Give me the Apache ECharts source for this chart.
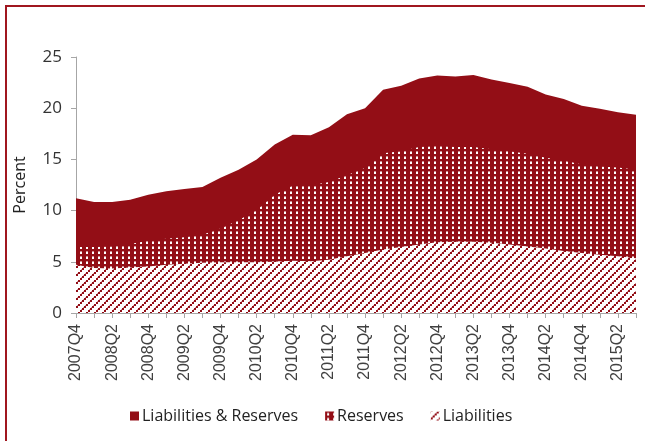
<!DOCTYPE html>
<html>
<head>
<meta charset="utf-8">
<script src="https://cdn.jsdelivr.net/npm/echarts@6/dist/echarts.min.js"></script>
<style>
html,body{margin:0;padding:0;background:#fff;}
#c{width:645px;height:441px;}
</style>
</head>
<body>
<div id="c"></div>
<script>
const categories = ['2007Q4','2008Q1','2008Q2','2008Q3','2008Q4','2009Q1','2009Q2','2009Q3','2009Q4','2010Q1','2010Q2','2010Q3','2010Q4','2011Q1','2011Q2','2011Q3','2011Q4','2012Q1','2012Q2','2012Q3','2012Q4','2013Q1','2013Q2','2013Q3','2013Q4','2014Q1','2014Q2','2014Q3','2014Q4','2015Q1','2015Q2','2015Q3'];
const liabilitiesAndReserves = [11.2,10.85,10.85,11.05,11.55,11.9,12.1,12.3,13.2,14.0,15.0,16.45,17.4,17.35,18.15,19.4,20.0,21.8,22.2,22.9,23.2,23.1,23.25,22.8,22.45,22.1,21.35,20.9,20.25,19.95,19.6,19.35];
const reserves = [6.45,6.45,6.5,6.75,7.05,7.25,7.4,7.65,8.25,9.05,10.05,11.55,12.45,12.45,12.8,13.45,14.15,15.6,15.8,16.2,16.3,16.2,16.2,16.0,15.8,15.55,15.15,14.9,14.5,14.3,14.2,14.0];
const liabilities = [4.7,4.4,4.35,4.45,4.55,4.7,4.8,4.9,4.95,4.95,4.95,5.0,5.1,5.05,5.2,5.55,5.85,6.2,6.45,6.7,6.9,6.95,6.95,6.85,6.7,6.5,6.3,6.05,5.85,5.7,5.55,5.35];
const seriesNames = ['Liabilities & Reserves','Reserves','Liabilities'];
const yTicks = {min:0, max:25, interval:5};

const RED = '#930e16';

function hatchPattern(){
  const c = document.createElement('canvas');
  c.width = 8; c.height = 8;
  const g = c.getContext('2d');
  g.fillStyle = '#ffffff'; g.fillRect(0,0,8,8);
  g.fillStyle = RED;
  for (let i = 0; i < 8; i += 2) g.fillRect(i, 6 - i, 2, 2);
  g.fillStyle = 'rgba(147,14,22,0.45)';
  for (let i = 1; i < 8; i += 2) g.fillRect(i, 6 - i, 1, 2);
  return {image: c, repeat: 'repeat'};
}
function dotPattern(){
  const c = document.createElement('canvas');
  c.width = 6; c.height = 5;
  const g = c.getContext('2d');
  g.fillStyle = RED; g.fillRect(0,0,6,5);
  g.fillStyle = '#ffffff';
  g.fillRect(2,2,2,2);
  g.fillStyle = 'rgba(255,255,255,0.55)';
  g.fillRect(2,1,2,1);
  return {image: c, repeat: 'repeat'};
}
const hatch = hatchPattern();
const dots = dotPattern();

const chart = echarts.init(document.getElementById('c'), null, {renderer:'canvas'});
const fills = [RED, dots, hatch];
const dataSets = [liabilitiesAndReserves, reserves, liabilities];

chart.setOption({
  animation: false,
  backgroundColor: '#ffffff',
  grid: {left: 76, right: 9, top: 57, bottom: 128, containLabel: false},
  graphic: [
    {type:'rect', shape:{x:6, y:5, width:645, height:2}, style:{fill:'#a0161f'}, silent:true},
    {type:'rect', shape:{x:5, y:5, width:2, height:441}, style:{fill:'#a0161f'}, silent:true}
  ],
  legend: {
    left: 125, top: 403,
    itemWidth: 9, itemHeight: 9, itemGap: 27,
    icon: 'rect',
    textStyle: {fontSize: 16, color: '#222', fontFamily: 'Open Sans', padding:[0,0,0,-2]},
    data: seriesNames.map((n,i)=>({name:n, itemStyle:{color:fills[i]}}))
  },
  xAxis: {
    type: 'category',
    data: categories,
    boundaryGap: false,
    axisLine: {lineStyle: {color: '#a6a6a6', width: 1}},
    axisTick: {show: true, interval: 0, length: 5, lineStyle: {color: '#a6a6a6'}},
    axisLabel: {interval: 1, rotate: 90, margin: 11, fontSize: 16, color: '#404040', fontFamily: 'Liberation Sans'},
    splitLine: {show: false}
  },
  yAxis: {
    type: 'value',
    min: yTicks.min, max: yTicks.max, interval: yTicks.interval,
    name: 'Percent', nameLocation: 'middle', nameRotate: 90, nameGap: 48,
    nameTextStyle: {fontSize: 16, color: '#222', fontFamily: 'Open Sans'},
    axisLine: {show: true, lineStyle: {color: '#a6a6a6'}},
    axisTick: {show: true, length: 5, lineStyle: {color: '#a6a6a6'}},
    axisLabel: {margin: 14, fontSize: 17, color: '#333', fontFamily: 'Open Sans'},
    splitLine: {show: false}
  },
  series: seriesNames.map((n,i)=>({
    name: n,
    type: 'line',
    data: dataSets[i],
    symbol: 'none',
    lineStyle: {width: 0},
    itemStyle: {color: fills[i]},
    areaStyle: {color: fills[i], opacity: 1},
    z: 2 + i
  }))
});
</script>
</body>
</html>
